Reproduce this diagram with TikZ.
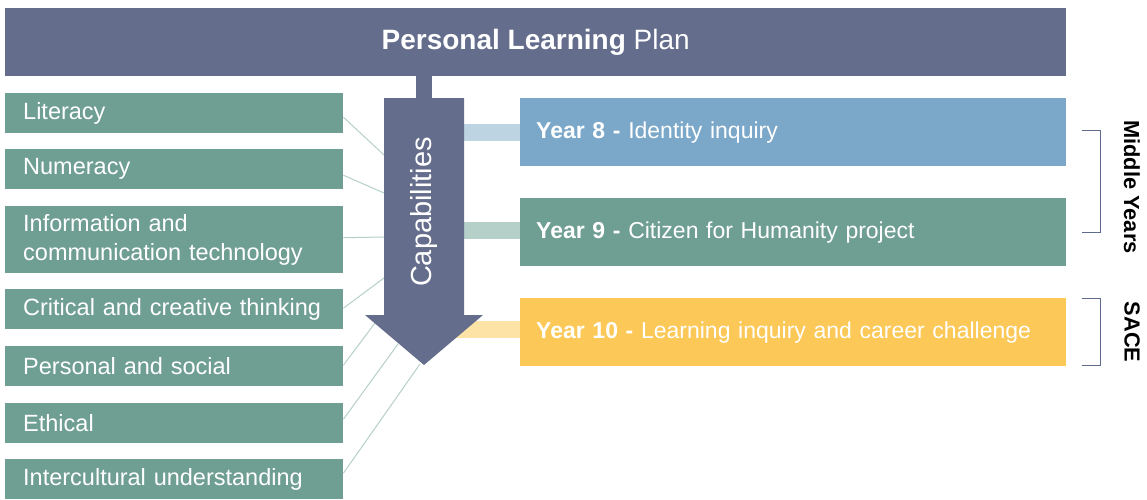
\documentclass[tikz,border=0pt]{standalone}
\usepackage{fontspec}
\setmainfont{Liberation Sans}
\definecolor{slate}{HTML}{646D8B}
\definecolor{sage}{HTML}{6F9E92}
\definecolor{sky}{HTML}{7BA7C9}
\definecolor{gold}{HTML}{FCC857}
\definecolor{skylt}{HTML}{BDD4E2}
\definecolor{sagelt}{HTML}{B5CFC9}
\definecolor{goldlt}{HTML}{FDE3A6}
\definecolor{linec}{HTML}{B5CFC9}
\definecolor{brk}{HTML}{5E6A8E}
\tikzset{
  lbox/.style={fill=sage, text=white, anchor=north west, inner xsep=18pt, inner ysep=0pt,
    text width=302pt, minimum height=40pt, align=left, font=\fontsize{23.5}{28.5}\selectfont},
  ybox/.style={text=white, anchor=north west, inner xsep=16pt, inner ysep=0pt,
    text width=514pt, minimum height=68pt, align=left, font=\fontsize{23}{28}\selectfont},
  thin/.style={draw=linec, line width=1pt},
  bar/.style={line width=17pt},
  bracket/.style={draw=brk, line width=1pt},
  side/.style={text=black, rotate=-90, font=\bfseries\fontsize{21.8}{26}\selectfont}
}
\begin{document}
\begin{tikzpicture}[x=1pt,y=-1pt]
\useasboundingbox (0,0) rectangle (1147,499);
% banner
\node[fill=slate, minimum width=1061pt, minimum height=68pt, inner sep=0pt, anchor=north west,
  text=white, font=\fontsize{28}{32}\selectfont] (plan) at (5,8) {\textbf{Personal Learning} Plan};
% left boxes
\node[lbox] (lit) at (5,93) {Literacy};
\node[lbox] (num) at (5,149) {Numeracy};
\node[lbox, minimum height=67pt] (ict) at (5,206) {Information and\\communication technology};
\node[lbox] (cct) at (5,289) {Critical and creative thinking};
\node[lbox] (pas) at (5,346) {Personal and social};
\node[lbox] (eth) at (5,403) {Ethical};
\node[lbox] (icu) at (5,459) {Intercultural understanding};
% arrow attach points
\coordinate (a1) at (384,155);
\coordinate (a2) at (384,193);
\coordinate (a3) at (384,237);
\coordinate (a4) at (384,278);
\coordinate (a5) at (375,323);
\coordinate (a6) at (398,344);
\coordinate (a7) at (420,364);
\draw[thin] ([yshift=-4pt]lit.east) -- (a1);
\draw[thin] ([yshift=-6pt]num.east) -- (a2);
\draw[thin] ([yshift=2pt]ict.east) -- (a3);
\draw[thin] ([yshift=1pt]cct.east) -- (a4);
\draw[thin] ([yshift=1pt]pas.east) -- (a5);
\draw[thin] ([yshift=4pt]eth.east) -- (a6);
\draw[thin] ([yshift=6pt]icu.east) -- (a7);
% year boxes
\node[ybox, fill=sky] (y8) at (520,98) {\textbf{Year 8 -} Identity inquiry};
\node[ybox, fill=sage] (y9) at (520,198) {\textbf{Year 9 -} Citizen for Humanity project};
\node[ybox, fill=gold] (y10) at (520,298) {\textbf{Year 10 -} Learning inquiry and career challenge};
% bars
\draw[bar, skylt] (y8.west) -- ++(-60,0);
\draw[bar, sagelt] ([yshift=2pt]y9.west) -- ++(-60,0);
\draw[bar, goldlt] ([yshift=2.5pt]y10.west) -- ++(-75,0);
% stem and arrow
\fill[slate] (416,76) rectangle (432,98);
\fill[slate] (384,98) -- (464,98) -- (464,315) -- (483,315) -- (424,365) -- (365,315) -- (384,315) -- cycle;
\node[text=white, rotate=90, font=\fontsize{29}{33}\selectfont] (cap) at (424,212) {Capabilities};
% brackets
\draw[bracket] (1082,130) -- (1100,130) -- (1100,232) -- (1082,232);
\draw[bracket] (1082,298) -- (1100,298) -- (1100,365) -- (1082,365);
\node[side] (my) at (1132,187) {Middle Years};
\node[side] (sace) at (1132,332) {SACE};
\end{tikzpicture}
\end{document}
